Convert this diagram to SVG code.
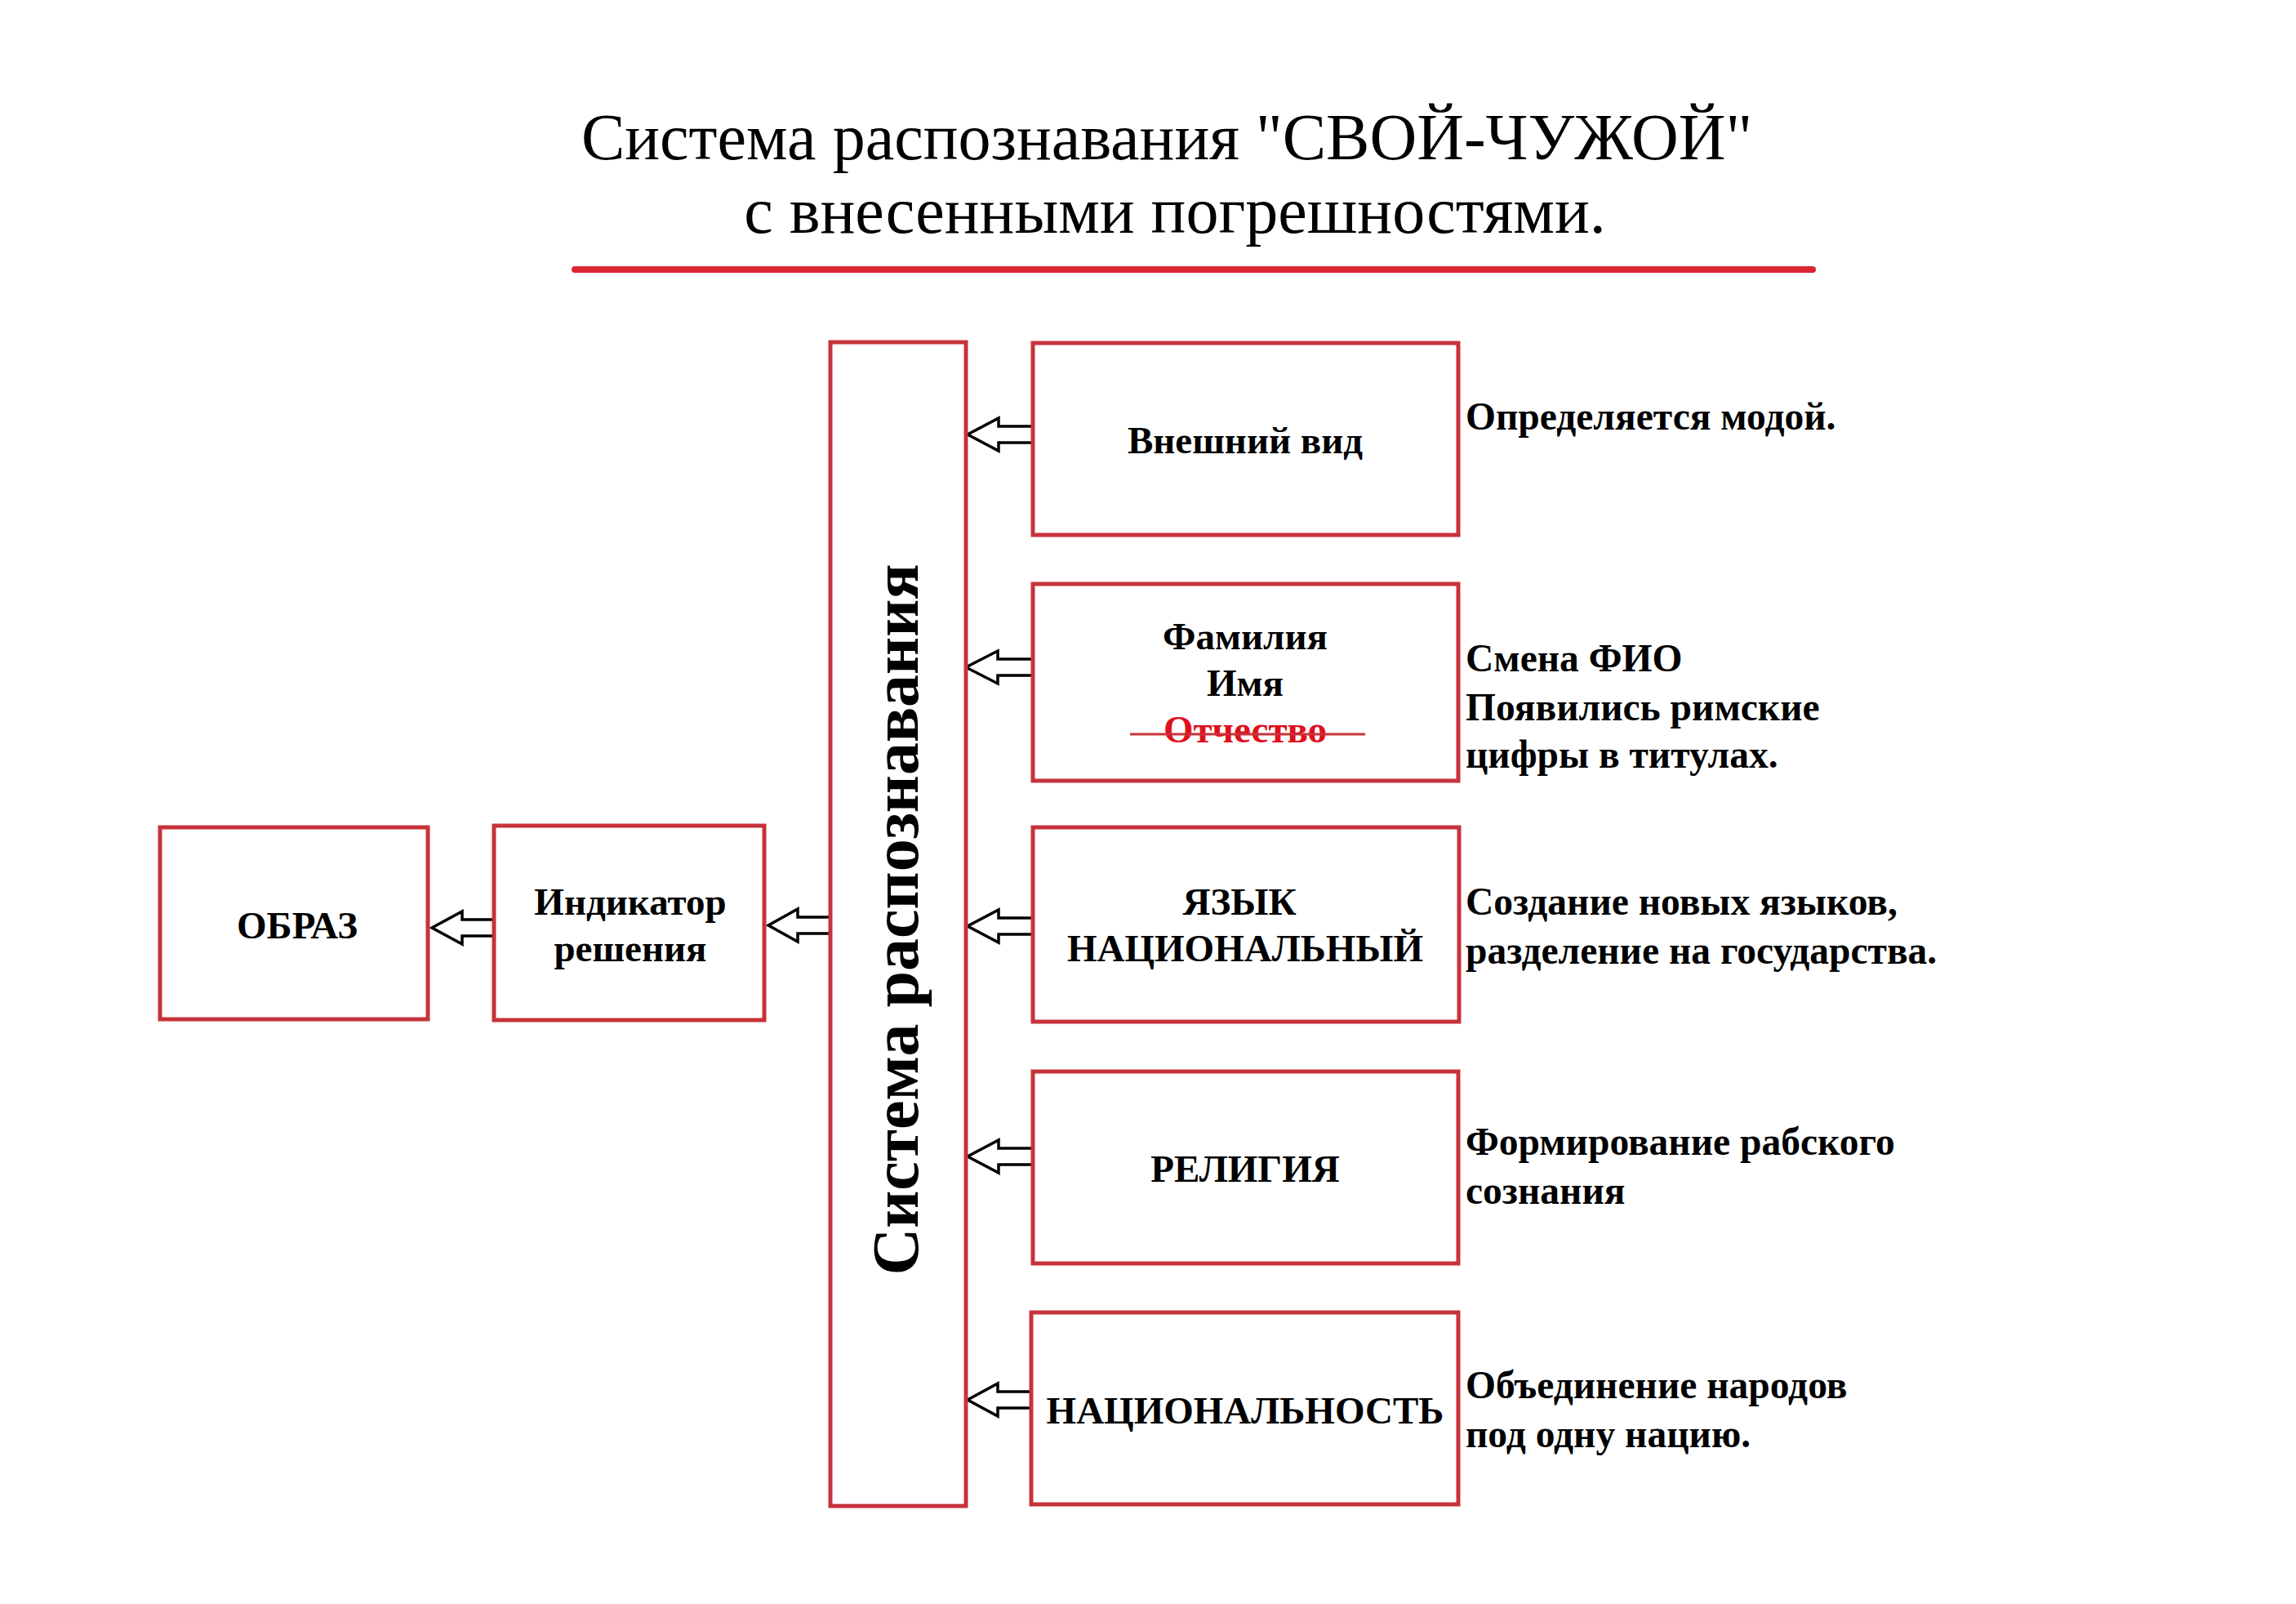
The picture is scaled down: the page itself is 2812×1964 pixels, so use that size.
<svg xmlns="http://www.w3.org/2000/svg" width="2812" height="1964" viewBox="0 0 2812 1964">
<style>
.box{fill:#ffffff;stroke:#c8323a;stroke-width:5}
.arr{fill:#ffffff;stroke:#000000;stroke-width:3.5;stroke-linejoin:miter}
.t{font-family:"Liberation Serif","Times New Roman",serif;font-weight:bold;fill:#000}
.bt{font-size:47px;text-anchor:middle}
.nt{font-size:47.5px}
.title{font-family:"Liberation Serif","Times New Roman",serif;font-size:80px;text-anchor:middle;fill:#000}
</style>
<rect width="2812" height="1964" fill="#ffffff"/>
<g id="title">
<text class="title" x="1429" y="195">Система распознавания "СВОЙ-ЧУЖОЙ"</text>
<text class="title" x="1439" y="285">с внесенными погрешностями.</text>
<line x1="704" y1="330" x2="2220" y2="330" stroke="#db2530" stroke-width="8" stroke-linecap="round"/>
</g>
<g id="connectors">
<path class="arr" d="M1265,522 H1223 V512 L1185,532 L1223,552 V542 H1265"/>
<path class="arr" d="M1265,807 H1222 V797 L1183,817 L1222,837 V827 H1265"/>
<path class="arr" d="M1265,1124 H1223 V1114 L1185,1134 L1223,1154 V1144 H1265"/>
<path class="arr" d="M1265,1406 H1223 V1396 L1185,1416 L1223,1436 V1426 H1265"/>
<path class="arr" d="M1263,1704 H1222 V1694 L1185,1714 L1222,1734 V1724 H1263"/>
<path class="arr" d="M1018,1123 H977 V1113 L941,1133 L977,1153 V1143 H1018"/>
<path class="arr" d="M605,1126 H566 V1116 L529,1136 L566,1156 V1146 H605"/>
</g>
<g id="system">
<rect class="box" x="1017" y="419" width="166" height="1425"/>
<text class="t" font-size="80" text-anchor="middle" transform="translate(1124,1126) rotate(-90)" x="0" y="0">Система распознавания</text>
</g>
<g id="appearance">
<rect class="box" x="1265" y="420" width="521" height="235"/>
<text class="t bt" x="1525" y="555">Внешний вид</text>
</g>
<g id="name">
<rect class="box" x="1265" y="715" width="521" height="241"/>
<text class="t bt" x="1525" y="795" font-size="44.5">Фамилия</text>
<text class="t bt" x="1525" y="852" font-size="44.5">Имя</text>
<text class="t bt" x="1525" y="909" font-size="44.5" style="fill:#e0101c">Отчество</text>
<line x1="1384" y1="899" x2="1672" y2="899" stroke="#c8323a" stroke-width="3"/>
</g>
<g id="language">
<rect class="box" x="1265" y="1013" width="522" height="238"/>
<text class="t bt" x="1518" y="1120">ЯЗЫК</text>
<text class="t bt" x="1525" y="1177">НАЦИОНАЛЬНЫЙ</text>
</g>
<g id="religion">
<rect class="box" x="1265" y="1312" width="521" height="235"/>
<text class="t bt" x="1525" y="1447">РЕЛИГИЯ</text>
</g>
<g id="nationality">
<rect class="box" x="1263" y="1607" width="523" height="235"/>
<text class="t bt" x="1525" y="1743">НАЦИОНАЛЬНОСТЬ</text>
</g>
<g id="indicator">
<rect class="box" x="605" y="1011" width="331" height="238"/>
<text class="t bt" x="772" y="1120">Индикатор</text>
<text class="t bt" x="772" y="1177">решения</text>
</g>
<g id="image">
<rect class="box" x="196" y="1013" width="328" height="235"/>
<text class="t bt" x="364" y="1149">ОБРАЗ</text>
</g>
<g id="notes">
<text class="t nt" x="1795" y="526">Определяется модой.</text>
<text class="t nt" x="1795" y="822">Смена ФИО</text>
<text class="t nt" x="1795" y="882">Появились римские</text>
<text class="t nt" x="1795" y="940">цифры в титулах.</text>
<text class="t nt" x="1795" y="1120">Создание новых языков,</text>
<text class="t nt" x="1795" y="1180">разделение на государства.</text>
<text class="t nt" x="1795" y="1414">Формирование рабского</text>
<text class="t nt" x="1795" y="1474">сознания</text>
<text class="t nt" x="1795" y="1712">Объединение народов</text>
<text class="t nt" x="1795" y="1772">под одну нацию.</text>
</g>
</svg>
